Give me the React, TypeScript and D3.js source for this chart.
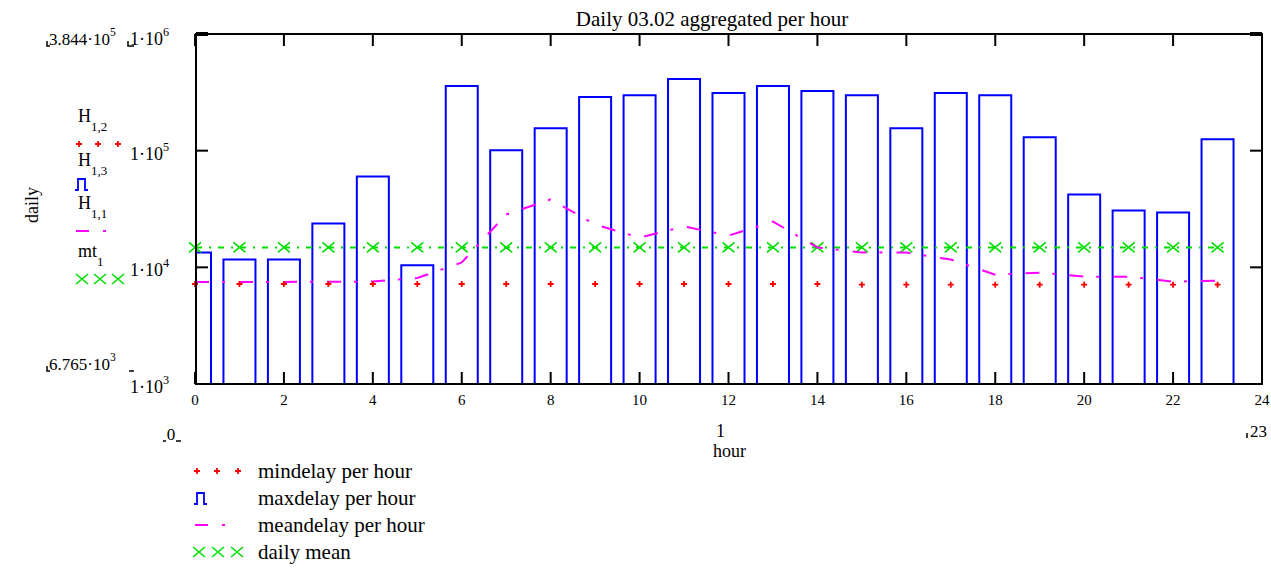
import React from "react";
import * as d3 from "d3";

// hourly delay statistics
const HOURS = [0, 1, 2, 3, 4, 5, 6, 7, 8, 9, 10, 11, 12, 13, 14, 15, 16, 17, 18, 19, 20, 21, 22, 23];
const MAX_DELAY = [
  13400, 11700, 11700, 23800, 60000, 10400, 358000, 100800, 156000, 288000, 299000, 411000,
  312000, 358000, 324000, 299000, 156000, 312000, 299000, 130000, 42200, 30700, 29500, 125000,
];
const MIN_DELAY = [
  7200, 7200, 7200, 7200, 7200, 7200, 7200, 7200, 7200, 7200, 7200, 7200,
  7200, 7200, 7200, 7100, 7100, 7100, 7100, 7100, 7100, 7100, 7100, 7100,
];
const MEAN_DELAY = [
  7490, 7500, 7500, 7520, 7550, 8100, 11000, 28400, 38200, 23300, 18000, 22400,
  18700, 24700, 14800, 13400, 13400, 11650, 8650, 9000, 8320, 8320, 7540, 7700,
];
const DAILY_MEAN = 14800;

const X_TICKS = [0, 2, 4, 6, 8, 10, 12, 14, 16, 18, 20, 22, 24];
const Y_DECADES = [1e3, 1e4, 1e5, 1e6];
const LEGEND_LABELS = ["mindelay per hour", "maxdelay per hour", "meandelay per hour", "daily mean"];
const SIDE_LABELS = [
  { base: "H", sub: "1,2" },
  { base: "H", sub: "1,3" },
  { base: "H", sub: "1,1" },
  { base: "mt", sub: "1" },
];

const RED = "#ff0000";
const BLUE = "#0000ff";
const PINK = "#ff00ff";
const GREEN = "#00dd00";
const INK = "#000000";
const FONT = "'Liberation Serif', 'DejaVu Serif', serif";

const W = 1271;
const H = 569;
const box = { left: 196, right: 1262, top: 34, bottom: 384 };

const x = d3.scaleLinear().domain([0, 24]).range([box.left - 1, box.right]);
const y = d3.scaleLog().domain([1e3, 1e6]).range([box.bottom, box.top]);

function Plus({ cx, cy }: { cx: number; cy: number }) {
  return (
    <path
      d={`M${cx - 3},${cy}H${cx + 3}M${cx},${cy - 3}V${cy + 3}`}
      stroke={RED}
      strokeWidth={1.8}
    />
  );
}

function Cross({ cx, cy }: { cx: number; cy: number }) {
  return (
    <path
      d={`M${cx - 6},${cy - 5}L${cx + 6},${cy + 5}M${cx - 6},${cy + 5}L${cx + 6},${cy - 5}`}
      stroke={GREEN}
      strokeWidth={1.6}
      fill="none"
    />
  );
}

function BarIcon({ x0, cy }: { x0: number; cy: number }) {
  return (
    <path
      d={`M${x0},${cy + 6}H${x0 + 3}V${cy - 5}H${x0 + 10}V${cy + 6}H${x0 + 13}`}
      stroke={BLUE}
      strokeWidth={1.8}
      fill="none"
    />
  );
}

function MeanIcon({ x0, cy }: { x0: number; cy: number }) {
  return (
    <g stroke={PINK} strokeWidth={2}>
      <line x1={x0} x2={x0 + 13} y1={cy} y2={cy} />
      <line x1={x0 + 27} x2={x0 + 30} y1={cy} y2={cy} />
    </g>
  );
}

function Sup({ base, exp, xPos, yPos, size = 18 }: { base: string; exp: string; xPos: number; yPos: number; size?: number }) {
  return (
    <text x={xPos} y={yPos} fontSize={size} fill={INK}>
      {base}
      <tspan dy={-9} fontSize={size * 0.68}>
        {exp}
      </tspan>
    </text>
  );
}

export default function App() {
  const halfW = x(0.36) - x(0);
  const line = d3
    .line<number>()
    .x((_, i) => x(HOURS[i]))
    .y((d) => y(d));

  const yTickLen = 12;
  const xTickLen = 12;

  return (
    <svg
      width={W}
      height={H}
      viewBox={`0 0 ${W} ${H}`}
      style={{ position: "absolute", left: 0, top: 0, background: "#fff" }}
      fontFamily={FONT}
    >
      <defs>
        <clipPath id="plot-clip">
          <rect x={box.left} y={box.top} width={box.right - box.left} height={box.bottom - box.top} />
        </clipPath>
      </defs>

      {/* title */}
      <text x={712} y={26} fontSize={21} textAnchor="middle" fill={INK}>
        Daily 03.02 aggregated per hour
      </text>

      {/* max delay bars */}
      <g clipPath="url(#plot-clip)" fill="none" stroke={BLUE} strokeWidth={2}>
        {HOURS.map((h, i) => {
          const cx = x(h);
          const top = y(MAX_DELAY[i]);
          return (
            <path
              key={h}
              d={`M${cx - halfW},${box.bottom}V${top}H${cx + halfW}V${box.bottom}`}
            />
          );
        })}
      </g>

      {/* daily mean */}
      <line
        x1={box.left}
        x2={x(23) + 6}
        y1={y(DAILY_MEAN)}
        y2={y(DAILY_MEAN)}
        stroke={GREEN}
        strokeWidth={2}
        strokeDasharray="6 7 2 7"
      />
      {HOURS.map((h) => (
        <Cross key={h} cx={x(h)} cy={y(DAILY_MEAN)} />
      ))}

      {/* mean delay */}
      <path
        d={line(MEAN_DELAY) ?? ""}
        fill="none"
        stroke={PINK}
        strokeWidth={2}
        strokeDasharray="14 13 3 14"
      />

      {/* min delay */}
      {HOURS.map((h, i) => (
        <Plus key={h} cx={x(h)} cy={y(MIN_DELAY[i])} />
      ))}

      {/* frame and ticks */}
      <rect
        x={box.left}
        y={box.top}
        width={box.right - box.left}
        height={box.bottom - box.top}
        fill="none"
        stroke={INK}
        strokeWidth={2}
      />
      <g stroke={INK} strokeWidth={2}>
        {X_TICKS.map((t) => (
          <g key={t}>
            <line x1={x(t)} x2={x(t)} y1={box.bottom} y2={box.bottom - xTickLen} />
            <line x1={x(t)} x2={x(t)} y1={box.top} y2={box.top + xTickLen} />
          </g>
        ))}
        {Y_DECADES.map((d) => (
          <g key={d}>
            <line x1={box.left} x2={box.left + yTickLen} y1={y(d)} y2={y(d)} strokeWidth={d === 1e6 ? 4 : 2} />
            <line x1={box.right} x2={box.right - yTickLen} y1={y(d)} y2={y(d)} strokeWidth={d === 1e6 ? 4 : 2} />
          </g>
        ))}
      </g>

      {/* x tick labels */}
      {X_TICKS.map((t) => (
        <text key={t} x={x(t)} y={405} fontSize={15} textAnchor="middle" fill={INK}>
          {t}
        </text>
      ))}

      {/* y tick labels */}
      {Y_DECADES.map((d) => (
        <Sup
          key={d}
          base="1·10"
          exp={String(Math.round(Math.log10(d)))}
          xPos={130}
          yPos={y(d) + (d === 1e6 ? 11 : 9)}
        />
      ))}

      {/* range annotations */}
      <Sup base="3.844·10" exp="5" xPos={49} yPos={45} size={17} />
      <Sup base="6.765·10" exp="3" xPos={49} yPos={370} size={17} />
      <g stroke={INK} strokeWidth={1.5}>
        <path d="M47,41V46H50" fill="none" />
        <path d="M128,41V46H134" fill="none" />
        <path d="M47,366V371H50" fill="none" />
        <path d="M129,371H134" fill="none" />
      </g>
      <text x={171} y={440} fontSize={17} textAnchor="middle" fill={INK}>
        0
      </text>
      <path d="M163,441H166M176,441H181" stroke={INK} strokeWidth={1.5} />
      <text x={716} y={437} fontSize={18} fill={INK}>
        1
      </text>
      <text x={713} y={457} fontSize={18} fill={INK}>
        hour
      </text>
      <text x={1250} y={437} fontSize={17} fill={INK}>
        23
      </text>
      <path d="M1247,433V438" stroke={INK} strokeWidth={1.5} />

      {/* axis title */}
      <text
        transform="translate(38,205) rotate(-90)"
        fontSize={18}
        textAnchor="middle"
        fill={INK}
      >
        daily
      </text>

      {/* side labels with their markers */}
      {SIDE_LABELS.map((s, i) => (
        <text key={i} x={78} y={[122, 166, 209, 257][i]} fontSize={18} fill={INK}>
          {s.base}
          <tspan dy={9} fontSize={13}>
            {s.sub}
          </tspan>
        </text>
      ))}
      {[79, 98, 118].map((cx) => (
        <Plus key={cx} cx={cx} cy={144} />
      ))}
      <BarIcon x0={75} cy={184} />
      <MeanIcon x0={76} cy={231} />
      {[82, 100, 118].map((cx) => (
        <Cross key={cx} cx={cx} cy={279} />
      ))}

      {/* bottom legend */}
      {LEGEND_LABELS.map((label, i) => {
        const baseY = 478 + i * 27;
        const cy = baseY - 7;
        return (
          <g key={label}>
            {i === 0 && [197, 217, 238].map((cx) => <Plus key={cx} cx={cx} cy={cy} />)}
            {i === 1 && <BarIcon x0={194} cy={cy} />}
            {i === 2 && <MeanIcon x0={195} cy={cy} />}
            {i === 3 && [199, 218, 237].map((cx) => <Cross key={cx} cx={cx} cy={cy} />)}
            <text x={258} y={baseY} fontSize={21} fill={INK}>
              {label}
            </text>
          </g>
        );
      })}
    </svg>
  );
}
